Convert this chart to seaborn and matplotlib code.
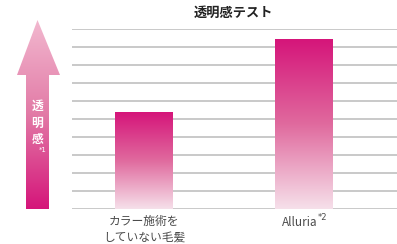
import numpy as np
import pandas as pd
import matplotlib
matplotlib.use("Agg")
import matplotlib.pyplot as plt
from matplotlib.colors import LinearSegmentedColormap
from matplotlib.patches import Polygon
import seaborn as sns

categories = ["カラー施術を\nしていない毛髪", "Alluria"]
values = [5.35, 9.4]
title = "透明感テスト"
arrow_label = "透明感"

sns.set_style("white")
plt.rcParams["font.family"] = ["Noto Sans CJK JP", "DejaVu Sans"]

deep = "#d5157a"
bar_cmap = LinearSegmentedColormap.from_list("bar", ["#f6e0ea", "#e06a9e", deep])
arrow_cmap = LinearSegmentedColormap.from_list("arr", ["#f2b8cf", "#e27aa6", deep])

fig = plt.figure(figsize=(3.97, 2.44), dpi=100)
W, H = 397, 244
ax = fig.add_axes([72 / W, 35 / H, 325 / W, (209 - 28.5) / H])

df = pd.DataFrame({"cat": categories, "val": values})
sns.barplot(data=df, x="cat", y="val", ax=ax, width=0.36, color=deep)

grad = np.linspace(0, 1, 256).reshape(-1, 1)
for p in ax.patches:
    x0, y0 = p.get_x(), p.get_y()
    w, h = p.get_width(), p.get_height()
    p.set_facecolor("none")
    p.set_edgecolor("none")
    im = ax.imshow(grad, cmap=bar_cmap, origin="lower", aspect="auto",
                   extent=[x0, x0 + w, y0, y0 + h], zorder=3)
    im.set_clip_path(p)

ax.set_xlim(-0.449, 1.578)
ax.set_ylim(0, 10)
ax.set_yticks(np.arange(0, 11, 1))
ax.yaxis.grid(True, color="#c9c9c9", linewidth=1.4)
ax.set_axisbelow(True)
ax.set_yticklabels([])
ax.tick_params(left=False, bottom=False)
ax.set_xticks([0, 1])
ax.set_xticklabels(["", ""])
ax.set_xlabel("")
ax.set_ylabel("")
sns.despine(ax=ax, left=True, bottom=True, top=True, right=True)

# category labels
lbl = "#4a4a4a"
fig.text(144 / W, 1 - 215 / H, categories[0], ha="center", va="top",
         fontsize=8.5, color=lbl, linespacing=1.3)
fig.text(300 / W, 1 - 216 / H, categories[1], ha="center", va="top",
         fontsize=8.5, color=lbl)
fig.text(318 / W, 1 - 213 / H, "*2", ha="left", va="top", fontsize=6,
         color=lbl, family="DejaVu Sans")

fig.text(233 / W, 1 - 13 / H, title, ha="center", va="center",
         fontsize=9.5, fontweight="bold", color="#222222")

# arrow
aax = fig.add_axes([17 / W, 35 / H, 43 / W, (209 - 20) / H])
aax.set_xlim(0, 43)
aax.set_ylim(0, 189)
aax.axis("off")
shape = Polygon([(9, 0), (32, 0), (32, 134), (43, 134), (20.5, 189),
                 (0, 134), (9, 134)], closed=True, facecolor="none", edgecolor="none")
aax.add_patch(shape)
im = aax.imshow(grad[::-1], cmap=arrow_cmap, origin="lower", aspect="auto",
                extent=[0, 43, 0, 189])
im.set_clip_path(shape)
for i, ch in enumerate(arrow_label):
    fig.text(37.5 / W, 1 - (106 + i * 17) / H, ch, ha="center", va="center",
             fontsize=8.5, fontweight="bold", color="white")
fig.text(39 / W, 1 - 150 / H, "*1", ha="left", va="center", fontsize=5,
         color="white", family="DejaVu Sans")

fig.savefig("out.png", dpi=100)
